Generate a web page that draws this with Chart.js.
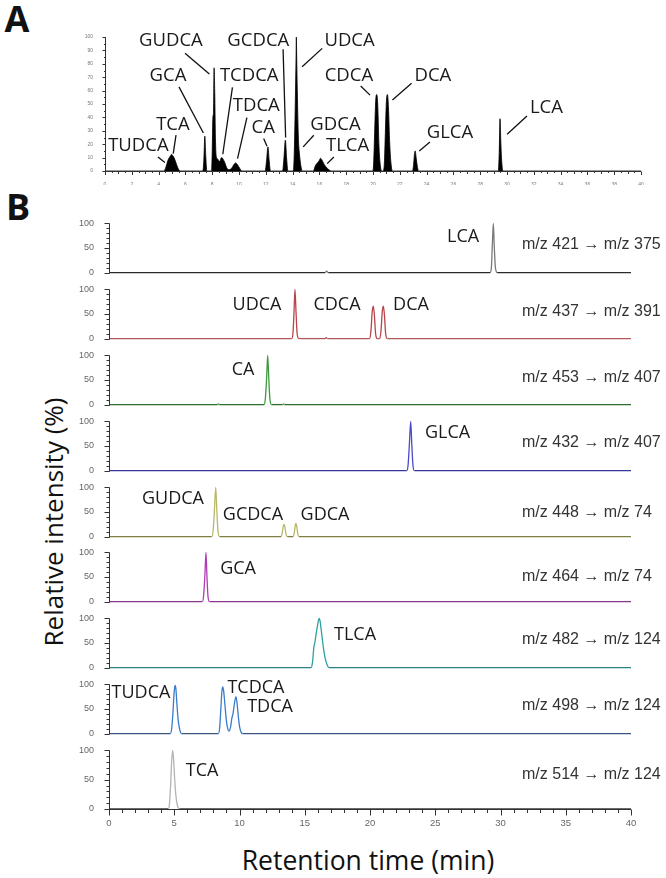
<!DOCTYPE html>
<html><head><meta charset="utf-8">
<script src="https://cdn.jsdelivr.net/npm/chart.js@4/dist/chart.umd.min.js"></script>
<style>
html,body{margin:0;padding:0;background:#fff;}
body{width:666px;height:878px;overflow:hidden;position:relative;}
canvas{position:absolute;}
.t{position:absolute;color:#111;white-space:nowrap;line-height:1;transform:translate(-50%,-50%);font-family:'Open Sans',sans-serif;}
</style></head><body>
<div class="t" style="left:17px;top:19px;font-size:36px;font-weight:700;">A</div>
<div class="t" style="left:18px;top:207px;font-size:36px;font-weight:700;">B</div>
<div class="t" style="left:53px;top:522px;font-size:26px;transform:translate(-50%,-50%) rotate(-90deg);">Relative intensity (%)</div>
<div class="t" style="left:368px;top:860px;font-size:26.5px;">Retention time (min)</div>
<canvas id="cA"></canvas>
<canvas id="b0"></canvas><canvas id="b1"></canvas><canvas id="b2"></canvas>
<canvas id="b3"></canvas><canvas id="b4"></canvas><canvas id="b5"></canvas>
<canvas id="b6"></canvas><canvas id="b7"></canvas><canvas id="b8"></canvas>
<script>
// ===== DATA (retention time in min, relative intensity in %) =====
const totalIonTrace = [[0,0],[4.4,0],[4.55,3],[4.7,8],[4.8,10],[4.9,11.5],[4.97,12.5],[5.05,11.5],[5.15,10],[5.3,6],[5.45,2],[5.6,0],
 [7.3,0],[7.38,9],[7.45,26],[7.52,11],[7.6,0],
 [7.95,0],[8.0,14],[8.05,40],[8.1,44],[8.14,77],[8.19,58],[8.24,25],[8.3,11],[8.4,9],[8.55,7],[8.7,10],[8.8,9],[8.95,6],[9.1,2],[9.25,1],[9.45,2],[9.6,4.5],[9.75,6],[9.9,4.5],[10.05,2],[10.2,0],
 [11.95,0],[12.05,7],[12.16,18],[12.25,8],[12.35,0],
 [13.25,0],[13.35,9],[13.46,23],[13.55,10],[13.65,0],
 [14.05,0],[14.12,12],[14.2,50],[14.26,86],[14.28,100],[14.3,88],[14.36,55],[14.43,25],[14.5,14],[14.6,5],[14.72,0],
 [15.55,0],[15.7,4],[15.85,6],[16.0,8],[16.08,9.5],[16.2,8],[16.35,5],[16.5,3],[16.7,1],[16.9,0],
 [19.98,0],[20.05,6],[20.12,28],[20.2,52],[20.28,57],[20.35,50],[20.45,18],[20.55,4],[20.65,0],
 [20.75,0],[20.85,6],[20.92,28],[21.0,52],[21.08,57],[21.15,48],[21.25,20],[21.35,5],[21.45,0],
 [22.95,0],[23.03,5],[23.1,13],[23.15,15],[23.22,10],[23.3,4],[23.4,0],
 [29.35,0],[29.42,14],[29.48,39],[29.53,24],[29.6,8],[29.7,0],[40,0]];

const labelsA = ['GUDCA','GCDCA','UDCA','GCA','TCDCA','CDCA','DCA','TDCA','CA','TCA','TUDCA','GDCA','TLCA','GLCA','LCA'];
const labelAnchorsA = [[4.92,97.2],[11.44,97.2],[18.25,97.2],[4.70,70.8],[10.76,70.8],[18.2,70.8],[24.47,70.8],[11.29,48.4],[11.81,32.2],[5.07,34.7],[2.49,19.2],[17.2,34.7],[18.1,19.2],[25.74,28.4],[32.94,47.4]];
const leadersA = [[5.97,87.8,7.79,72.3],[13.29,90.8,13.48,25.0],[16.21,91.5,14.71,77.8],[5.52,62.8,7.34,28.4],[9.51,62.4,8.79,12.5],[19.08,63.4,19.78,56.6],[22.88,65.4,21.45,52.9],[10.59,39.9,9.89,9.3],[11.84,24.2,12.09,18.5],[5.30,26.7,5.09,13.0],[3.95,10.5,4.47,6.3],[15.58,26.7,14.79,18.0],[17.08,10.5,16.58,5.5],[24.25,21.7,23.45,15.0],[31.49,41.1,30.01,27.4]];

const lcaTrace = [[0,0],[16.55,0],[16.68,3],[16.8,0],[29.2,0],[29.3,10],[29.38,60],[29.45,100],[29.52,55],[29.61,10],[29.75,0],[40,0]];
const udcaCdcaDcaTrace = [[0,0],[14.0,0],[14.1,12],[14.18,55],[14.25,100],[14.33,55],[14.41,12],[14.55,0],[16.55,0],[16.65,2],[16.75,0],[19.98,0],[20.08,18],[20.17,55],[20.25,66],[20.33,50],[20.43,10],[20.55,0],[20.75,0],[20.85,18],[20.94,55],[21.02,66],[21.1,50],[21.2,10],[21.33,0],[40,0]];
const caTrace = [[0,0],[8.3,0],[8.38,1.5],[8.46,0],[11.88,0],[11.98,12],[12.08,55],[12.16,100],[12.24,55],[12.33,12],[12.45,0],[13.3,0],[13.38,1.5],[13.46,0],[40,0]];
const glcaTrace = [[0,0],[22.82,0],[22.92,12],[23.02,55],[23.12,100],[23.2,55],[23.29,12],[23.4,0],[40,0]];
const glycineTrace = [[0,0],[7.88,0],[7.98,12],[8.08,55],[8.18,100],[8.26,55],[8.35,12],[8.48,0],[13.18,0],[13.28,8],[13.36,22],[13.42,25],[13.49,18],[13.57,4],[13.66,0],[14.12,0],[14.21,10],[14.28,24],[14.33,27],[14.39,20],[14.47,5],[14.56,0],[40,0]];
const gcaTrace = [[0,0],[7.15,0],[7.25,12],[7.35,55],[7.43,100],[7.5,55],[7.58,12],[7.7,0],[40,0]];
const tlcaTrace = [[0,0],[15.5,0],[15.6,12],[15.7,42],[15.78,52],[15.88,70],[15.98,86],[16.06,97],[16.12,100],[16.2,90],[16.3,68],[16.42,42],[16.56,20],[16.7,7],[16.85,0],[40,0]];
const taurineTrace = [[0,0],[4.7,0],[4.8,10],[4.9,42],[4.98,80],[5.04,95],[5.08,98],[5.13,90],[5.2,62],[5.3,28],[5.42,8],[5.56,0],[8.38,0],[8.48,12],[8.57,50],[8.65,85],[8.71,95],[8.78,88],[8.88,60],[8.98,30],[9.08,12],[9.2,5],[9.32,14],[9.42,32],[9.5,40],[9.58,55],[9.67,70],[9.73,75],[9.82,60],[9.92,32],[10.02,12],[10.12,3],[10.24,0],[40,0]];
const tcaTrace = [[0,0],[4.54,0],[4.63,8],[4.72,40],[4.8,80],[4.88,100],[4.95,85],[5.03,52],[5.12,24],[5.24,6],[5.4,0],[40,0]];

const tracesB = [lcaTrace, udcaCdcaDcaTrace, caTrace, glcaTrace, glycineTrace, gcaTrace, tlcaTrace, taurineTrace, tcaTrace];
const transitionsB = ['m/z 421 \u2192 m/z 375','m/z 437 \u2192 m/z 391','m/z 453 \u2192 m/z 407','m/z 432 \u2192 m/z 407','m/z 448 \u2192 m/z 74','m/z 464 \u2192 m/z 74','m/z 482 \u2192 m/z 124','m/z 498 \u2192 m/z 124','m/z 514 \u2192 m/z 124'];
const transitionAnchorV = [57.6,55.8,55.6,57,49,50.5,57.8,56.4,58];
const compoundLabelsB = [['LCA'],['UDCA','CDCA','DCA'],['CA'],['GLCA'],['GUDCA','GCDCA','GDCA'],['GCA'],['TLCA'],['TUDCA','TCDCA','TDCA'],['TCA']];
const compoundAnchorsB = [[[27.13,72.9]],[[11.34,67.6],[17.47,67.6],[23.14,67.6]],[[10.27,69.7]],[[25.94,75.8]],[[4.90,77.3],[11.03,43.4],[16.55,43.4]],[[9.89,67.5]],[[18.85,66.8]],[[2.45,81.9],[11.26,93.7],[12.34,53.6]],[[7.13,64.7]]];
const xTicksB = [0,5,10,15,20,25,30,35,40];

// ===== STYLE =====
const peakColorsB = ['#7a7a7a','#b8444a','#3d9a3d','#4a4ac4','#b8b868','#b03cb4','#2fa0a0','#3a7ccc','#b4b4b4'];
const baseColorsB = ['#2a2a2a','#b0585c','#2f6e2f','#35359a','#7f7f45','#8a3a8e','#2a8282','#3a5580','#3a3a3a'];
const baselinesB = [282,348,414,480,546,611,677,743,809];

Chart.defaults.font.family = "'Liberation Sans', Arial, sans-serif";

function tickLen(v, steps){ for (const [s,len] of steps){ if (Math.abs(v/s - Math.round(v/s)) < 1e-6) return len; } return 0; }

const axisMarks = {
  id: 'axisMarks',
  afterDatasetsDraw(chart, args, o) {
    const ctx = chart.ctx, xs = chart.scales.x, ys = chart.scales.y;
    ctx.save();
    ctx.strokeStyle = o.color || '#333'; ctx.lineWidth = 1;
    ctx.beginPath();
    const px = Math.round(xs.getPixelForValue(0)) + 0.5;
    const py0 = Math.round(ys.getPixelForValue(0)) + 0.5;
    if (o.y) {
      ctx.moveTo(px, ys.getPixelForValue(o.y.max)); ctx.lineTo(px, py0);
      const s = o.y.steps[o.y.steps.length-1][0];
      for (let i = 0; i * s <= o.y.max + 1e-9; i++) {
        const v = i * s, len = tickLen(v, o.y.steps);
        const py = Math.round(ys.getPixelForValue(v)) + 0.5;
        ctx.moveTo(px - len, py); ctx.lineTo(px, py);
      }
    }
    if (o.x) {
      ctx.moveTo(px, py0); ctx.lineTo(xs.getPixelForValue(o.x.max), py0);
      const s = o.x.steps[o.x.steps.length-1][0];
      for (let i = 0; i * s <= o.x.max + 1e-9; i++) {
        const v = i * s, len = tickLen(v, o.x.steps);
        const qx = Math.round(xs.getPixelForValue(v)) + 0.5;
        ctx.moveTo(qx, py0); ctx.lineTo(qx, py0 + len);
      }
    }
    ctx.stroke();
    ctx.restore();
  }
};

const textMarks = {
  id: 'textMarks',
  afterDatasetsDraw(chart, args, o) {
    const ctx = chart.ctx, xs = chart.scales.x, ys = chart.scales.y;
    ctx.save();
    (o.lines || []).forEach(L => {
      ctx.strokeStyle = o.lineColor || '#111'; ctx.lineWidth = o.lineWidth || 1.2;
      ctx.beginPath();
      ctx.moveTo(xs.getPixelForValue(L[0]), ys.getPixelForValue(L[1]));
      ctx.lineTo(xs.getPixelForValue(L[2]), ys.getPixelForValue(L[3]));
      ctx.stroke();
    });
    (o.items || []).forEach(it => {
      ctx.font = it.font; ctx.fillStyle = it.color; ctx.textAlign = it.align || 'center'; ctx.textBaseline = 'middle';
      ctx.fillText(it.text, xs.getPixelForValue(it.t), ys.getPixelForValue(it.v));
    });
    ctx.restore();
  }
};

function build(id, area, pads, datasets, xOpt, yOpt, plug) {
  const cv = document.getElementById(id);
  const W = area.r - area.l + pads.yw + pads.pr;
  const H = area.b - area.t + pads.pt + pads.pb + pads.xh;
  cv.width = W; cv.height = H;
  cv.style.left = (area.l - pads.yw) + 'px'; cv.style.top = (area.t - pads.pt) + 'px';
  cv.style.width = W + 'px'; cv.style.height = H + 'px';
  return new Chart(cv, {
    type: 'scatter',
    data: { datasets },
    options: {
      responsive: false, animation: false, devicePixelRatio: 1, events: [],
      layout: { padding: { left: 0, top: pads.pt, right: pads.pr, bottom: pads.pb } },
      scales: {
        x: Object.assign({ type: 'linear', min: 0, max: 40, grid: { display: false }, border: { display: false },
             afterFit: s => { s.height = pads.xh; } }, xOpt),
        y: Object.assign({ type: 'linear', min: 0, max: 100, grid: { display: false }, border: { display: false },
             afterFit: s => { s.width = pads.yw; } }, yOpt)
      },
      plugins: Object.assign({ legend: { display: false }, tooltip: { enabled: false } }, plug)
    },
    plugins: [axisMarks, textMarks]
  });
}

// ===== Panel A =====
build('cA', { l: 105, t: 37, r: 641, b: 171 }, { yw: 22, pr: 25, pt: 30, pb: 0, xh: 14 },
  [{ data: totalIonTrace.map(p => ({ x: p[0], y: p[1] })), showLine: true, pointRadius: 0, borderColor: '#000', borderWidth: 0.8,
     backgroundColor: '#000', fill: 'origin', cubicInterpolationMode: 'monotone', clip: false }],
  { ticks: { stepSize: 2, font: { size: 5 }, color: '#777', padding: 3, maxRotation: 0, autoSkip: false } },
  { ticks: { stepSize: 10, font: { size: 5 }, color: '#777', padding: 4 } },
  {
    axisMarks: { color: '#333', y: { max: 100, steps: [[10, 3], [5, 1.5]] }, x: { max: 40, steps: [[2, 3.5], [1, 2.5], [0.5, 1.5]] } },
    textMarks: {
      lineColor: '#111', lineWidth: 1.3, lines: leadersA,
      items: labelsA.map((s, i) => ({ text: s, t: labelAnchorsA[i][0], v: labelAnchorsA[i][1], font: "18.5px 'Open Sans'", color: '#1a1a1a' }))
    }
  });

// ===== Panel B =====
tracesB.forEach((tr, i) => {
  const bottom = i === tracesB.length - 1;
  const base = baselinesB[i];
  const items = compoundLabelsB[i].map((s, k) => ({ text: s, t: compoundAnchorsB[i][k][0], v: compoundAnchorsB[i][k][1], font: "18px 'Open Sans'", color: '#1a1a1a' }));
  items.push({ text: transitionsB[i], t: 31.65, v: transitionAnchorV[i], font: "16px 'Liberation Sans'", color: '#333', align: 'left' });
  build('b' + i, { l: 109, t: base - 59, r: 631, b: base }, { yw: 30, pr: 35, pt: 12, pb: bottom ? 0 : 3, xh: bottom ? 24 : 0 },
    [{ data: tr.map(p => ({ x: p[0], y: p[1] })), showLine: true, pointRadius: 0, borderColor: baseColorsB[i], borderWidth: 1.3,
       segment: { borderColor: c => (c.p0.parsed.y > 0 || c.p1.parsed.y > 0) ? peakColorsB[i] : baseColorsB[i] },
       cubicInterpolationMode: 'monotone', clip: false }],
    { display: bottom, ticks: { stepSize: 5, font: { size: 9.5 }, color: '#666', padding: 1, maxRotation: 0, autoSkip: false,
        callback: v => xTicksB.includes(v) ? String(v) : '' } },
    { ticks: { stepSize: 50, font: { size: 9 }, color: '#666', padding: 7 } },
    {
      axisMarks: Object.assign({ color: '#333', y: { max: 100, steps: [[50, 5], [10, 3]] } }, bottom ? { x: { max: 40, steps: [[5, 6], [1, 3.5]] } } : {}),
      textMarks: { items }
    });
});
</script>
</body></html>
